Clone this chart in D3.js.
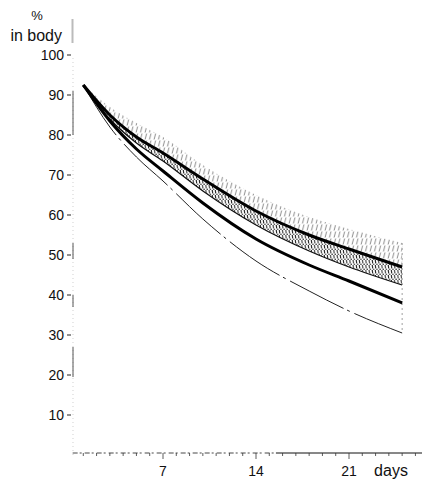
<!DOCTYPE html>
<html>
<head>
<meta charset="utf-8">
<script src="https://cdn.jsdelivr.net/npm/d3@7.9.0/dist/d3.min.js"></script>
<style>
  body { margin: 0; background: #fff; }
  svg { display: block; font-family: "Liberation Sans", Arial, sans-serif; }
</style>
</head>
<body>
<svg width="422" height="480"></svg>
<script>
// values (% in body vs days)
const days      = [1, 3, 5, 7, 10, 14, 18, 21, 25];
const upperEdge = [92.5, 87, 83, 79.5, 72.5, 65, 59.5, 56.5, 53];
const curveA    = [92.5, 85, 79.5, 75.5, 69, 61, 55, 51.5, 47];
const bandLow   = [92.5, 84, 78, 73.5, 66, 57.5, 51, 47, 42.5];
const curveB    = [92.5, 83.5, 76.5, 71, 63, 54, 47.5, 43.5, 38];
const lowerC    = [92.5, 82, 74.5, 68.5, 59, 48.5, 41, 36, 30.5];
const yTicks    = [10, 20, 30, 40, 50, 60, 70, 80, 90, 100];
const xLabels   = [7, 14, 21];
// bits of the y axis line that printed dark
const axisBits  = [[80, 91], [49, 53], [37, 40], [19.5, 27]];

const svg = d3.select('svg');
const x = d3.scaleLinear().domain([0, 7]).range([70, 163]);
const y = d3.scaleLinear().domain([0, 100]).range([455, 55]);

const defs = svg.append('defs');
// sparse slanted hatch for the upper band
let p1 = defs.append('pattern').attr('id', 'sparse')
  .attr('patternUnits', 'userSpaceOnUse').attr('width', 4.5).attr('height', 7);
p1.append('line').attr('x1', 1).attr('y1', 6.5).attr('x2', 2.6).attr('y2', 0.5)
  .attr('stroke', '#666').attr('stroke-width', 0.8);
// dense hatch + dots for the inner band
let p2 = defs.append('pattern').attr('id', 'dense')
  .attr('patternUnits', 'userSpaceOnUse').attr('width', 3.2).attr('height', 5);
p2.append('line').attr('x1', 1).attr('y1', 0).attr('x2', 1.4).attr('y2', 3.4)
  .attr('stroke', '#111').attr('stroke-width', 1);
p2.append('circle').attr('cx', 2.5).attr('cy', 4.2).attr('r', 0.7).attr('fill', '#111');

const pts = (vals) => days.map((d, i) => [d, vals[i]]);
const line = d3.line().x(d => x(d[0])).y(d => y(d[1])).curve(d3.curveMonotoneX);
const area = (top, bot) => d3.area()
  .x((d, i) => x(days[i]))
  .y0((d, i) => y(bot[i]))
  .y1((d, i) => y(top[i]))
  .curve(d3.curveMonotoneX)(days);

svg.append('path').attr('d', area(upperEdge, curveA)).attr('fill', 'url(#sparse)');
svg.append('path').attr('d', area(curveA, bandLow)).attr('fill', 'url(#dense)');

// ragged end of the bands at the last day
const last = days.length - 1;
svg.append('line')
  .attr('x1', x(days[last])).attr('x2', x(days[last]))
  .attr('y1', y(upperEdge[last])).attr('y2', y(lowerC[last]))
  .attr('stroke', '#888').attr('stroke-width', 0.8).attr('stroke-dasharray', '2,3');

svg.append('path').attr('d', line(pts(lowerC))).attr('fill', 'none')
  .attr('stroke', '#222').attr('stroke-width', 1).attr('stroke-dasharray', '60,4,3,5');
svg.append('path').attr('d', line(pts(bandLow))).attr('fill', 'none')
  .attr('stroke', '#111').attr('stroke-width', 1.2);
svg.append('path').attr('d', line(pts(curveB))).attr('fill', 'none')
  .attr('stroke', '#000').attr('stroke-width', 3);
svg.append('path').attr('d', line(pts(curveA))).attr('fill', 'none')
  .attr('stroke', '#000').attr('stroke-width', 3);

// y axis
const ax = x(0) + 3;
svg.append('line').attr('x1', ax).attr('x2', ax).attr('y1', y(0)).attr('y2', y(100))
  .attr('stroke', '#bbb').attr('stroke-width', 0.7).attr('stroke-dasharray', '1,3');
axisBits.forEach(([a, b]) => {
  svg.append('line').attr('x1', ax).attr('x2', ax).attr('y1', y(a)).attr('y2', y(b))
    .attr('stroke', '#444').attr('stroke-width', 0.9);
});
svg.append('line').attr('x1', ax - 0.5).attr('x2', ax - 0.5).attr('y1', y(103)).attr('y2', y(109))
  .attr('stroke', '#bbb').attr('stroke-width', 2);

const yg = svg.append('g');
yTicks.forEach(v => {
  yg.append('line').attr('x1', ax - 6).attr('x2', ax - 2).attr('y1', y(v)).attr('y2', y(v))
    .attr('stroke', '#222').attr('stroke-width', 1);
  yg.append('text').attr('x', ax - 9).attr('y', y(v) + 5).attr('text-anchor', 'end')
    .attr('font-size', 14).attr('fill', '#111').text(v);
});
svg.append('text').attr('x', 37).attr('y', 20).attr('text-anchor', 'middle')
  .attr('font-size', 13).attr('fill', '#111').text('%');
svg.append('text').attr('x', 62).attr('y', 41).attr('text-anchor', 'end')
  .attr('font-size', 16).attr('fill', '#111').text('in body');

// x axis
const x0 = y(0) - 2;
svg.append('line').attr('x1', x(0.2)).attr('x2', x(15.5)).attr('y1', x0).attr('y2', x0)
  .attr('stroke', '#333').attr('stroke-width', 0.9).attr('stroke-dasharray', '5,2,2,3');
svg.append('line').attr('x1', x(15.5)).attr('x2', 422).attr('y1', x0).attr('y2', x0)
  .attr('stroke', '#111').attr('stroke-width', 1);
d3.range(1, 27).forEach(d => {
  const major = xLabels.includes(d);
  svg.append('line').attr('x1', x(d)).attr('x2', x(d)).attr('y1', x0)
    .attr('y2', x0 + (major ? 6 : 3))
    .attr('stroke', '#333').attr('stroke-width', 0.8);
});
xLabels.forEach(d => {
  svg.append('text').attr('x', x(d)).attr('y', 476).attr('text-anchor', 'middle')
    .attr('font-size', 14).attr('fill', '#111').text(d);
});
svg.append('text').attr('x', 391).attr('y', 476).attr('text-anchor', 'middle')
  .attr('font-size', 16).attr('fill', '#111').text('days');
</script>
</body>
</html>
